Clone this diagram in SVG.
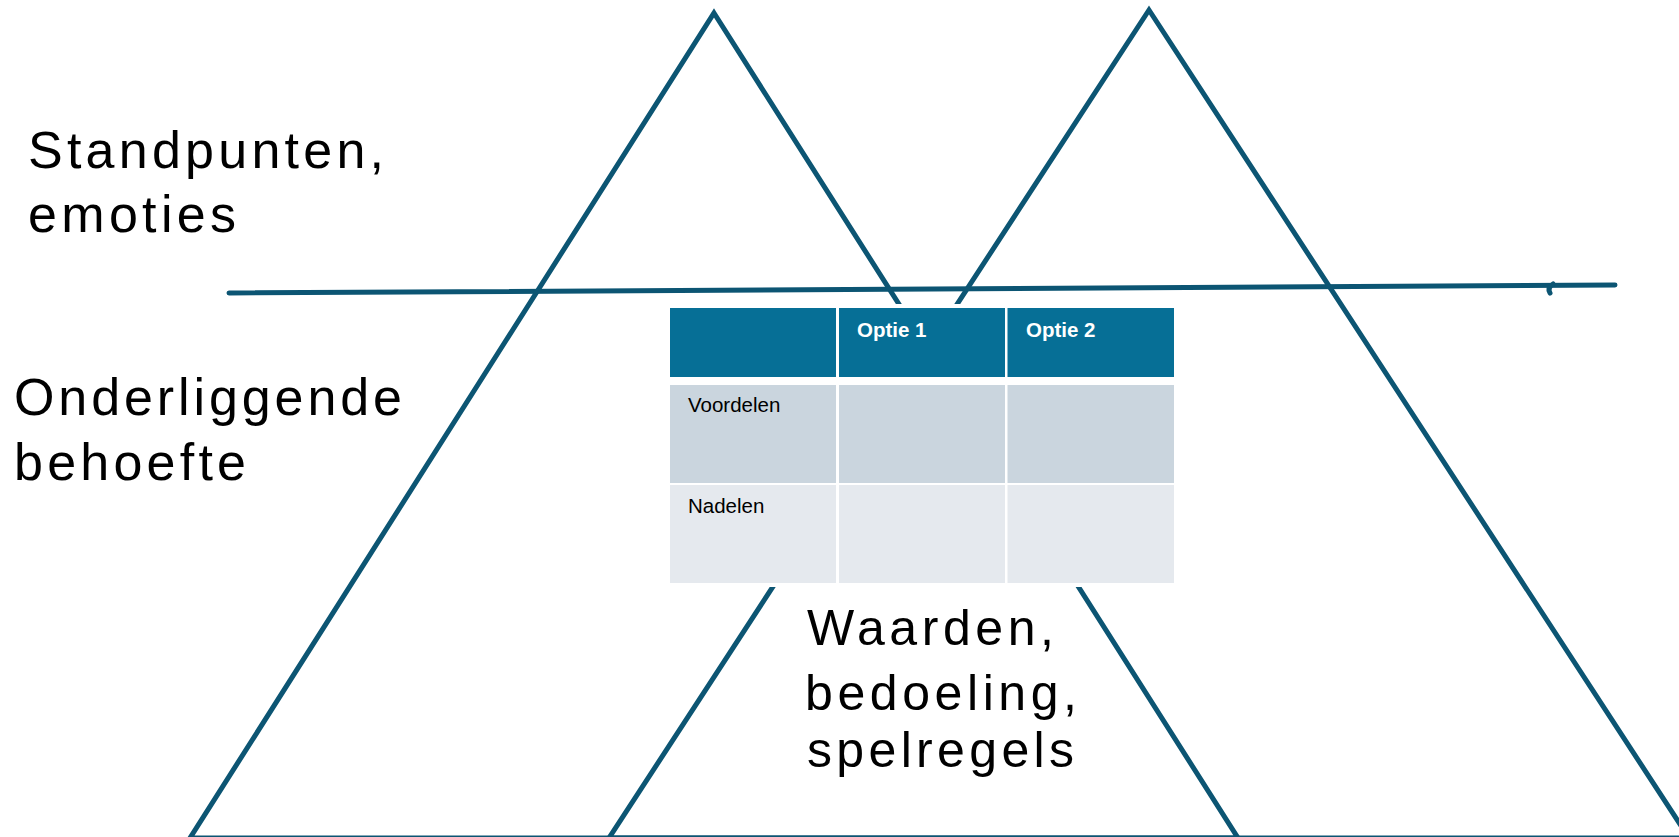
<svg xmlns="http://www.w3.org/2000/svg" width="1679" height="837" viewBox="0 0 1679 837">
<style>
.tri{fill:none;stroke:#0C5573;stroke-width:5;stroke-linejoin:miter}
.hl{fill:none;stroke:#0C5573;stroke-width:5;stroke-linecap:round}
.big{font-family:"Liberation Sans",Arial,sans-serif;fill:#000}
.hd{fill:#066F96}
.r1{fill:#CAD5DE}
.r2{fill:#E5E9EE}
.ht{font-family:"Liberation Sans",Arial,sans-serif;font-size:20.5px;font-weight:bold;fill:#fff}
.ct{font-family:"Liberation Sans",Arial,sans-serif;font-size:20.5px;fill:#000}
</style>
<rect width="1679" height="837" fill="#fff"/>
<g id="triangle-left">
<polygon class="tri" points="714,13 1238,838 190,838"/>
</g>
<g id="triangle-right">
<polygon class="tri" points="1149,10 1689,838 609,838"/>
</g>
<g id="connectors">
<path class="hl" d="M229,293 L1615,285"/>
<path class="hl" d="M1553,284 Q1547,288 1550,293" stroke-width="4"/>
</g>
<g id="table">
<rect x="666" y="304" width="512" height="283" fill="#fff"/>
<rect class="hd" x="670" y="308" width="166" height="69"/>
<rect class="hd" x="839" y="308" width="166" height="69"/>
<rect class="hd" x="1007.5" y="308" width="166.5" height="69"/>
<rect class="r1" x="670" y="385" width="166" height="98"/>
<rect class="r1" x="839" y="385" width="166" height="98"/>
<rect class="r1" x="1007.5" y="385" width="166.5" height="98"/>
<rect class="r2" x="670" y="485" width="166" height="98"/>
<rect class="r2" x="839" y="485" width="166" height="98"/>
<rect class="r2" x="1007.5" y="485" width="166.5" height="98"/>
<text class="ht" x="857" y="337">Optie 1</text>
<text class="ht" x="1026" y="337">Optie 2</text>
<text class="ct" x="688" y="412">Voordelen</text>
<text class="ct" x="688" y="513">Nadelen</text>
</g>
<g id="label-standpunten">
<text class="big" font-size="52" x="28" y="168" textLength="356" lengthAdjust="spacing">Standpunten,</text>
<text class="big" font-size="52" x="28" y="232" textLength="208" lengthAdjust="spacing">emoties</text>
</g>
<g id="label-onderliggende">
<text class="big" font-size="52" x="14" y="415" textLength="388" lengthAdjust="spacing">Onderliggende</text>
<text class="big" font-size="52" x="14" y="480" textLength="232" lengthAdjust="spacing">behoefte</text>
</g>
<g id="label-waarden">
<text class="big" font-size="50" x="807" y="645" textLength="247" lengthAdjust="spacing">Waarden,</text>
<text class="big" font-size="50" x="805" y="710" textLength="272" lengthAdjust="spacing">bedoeling,</text>
<text class="big" font-size="50" x="807" y="767" textLength="267" lengthAdjust="spacing">spelregels</text>
</g>
</svg>
